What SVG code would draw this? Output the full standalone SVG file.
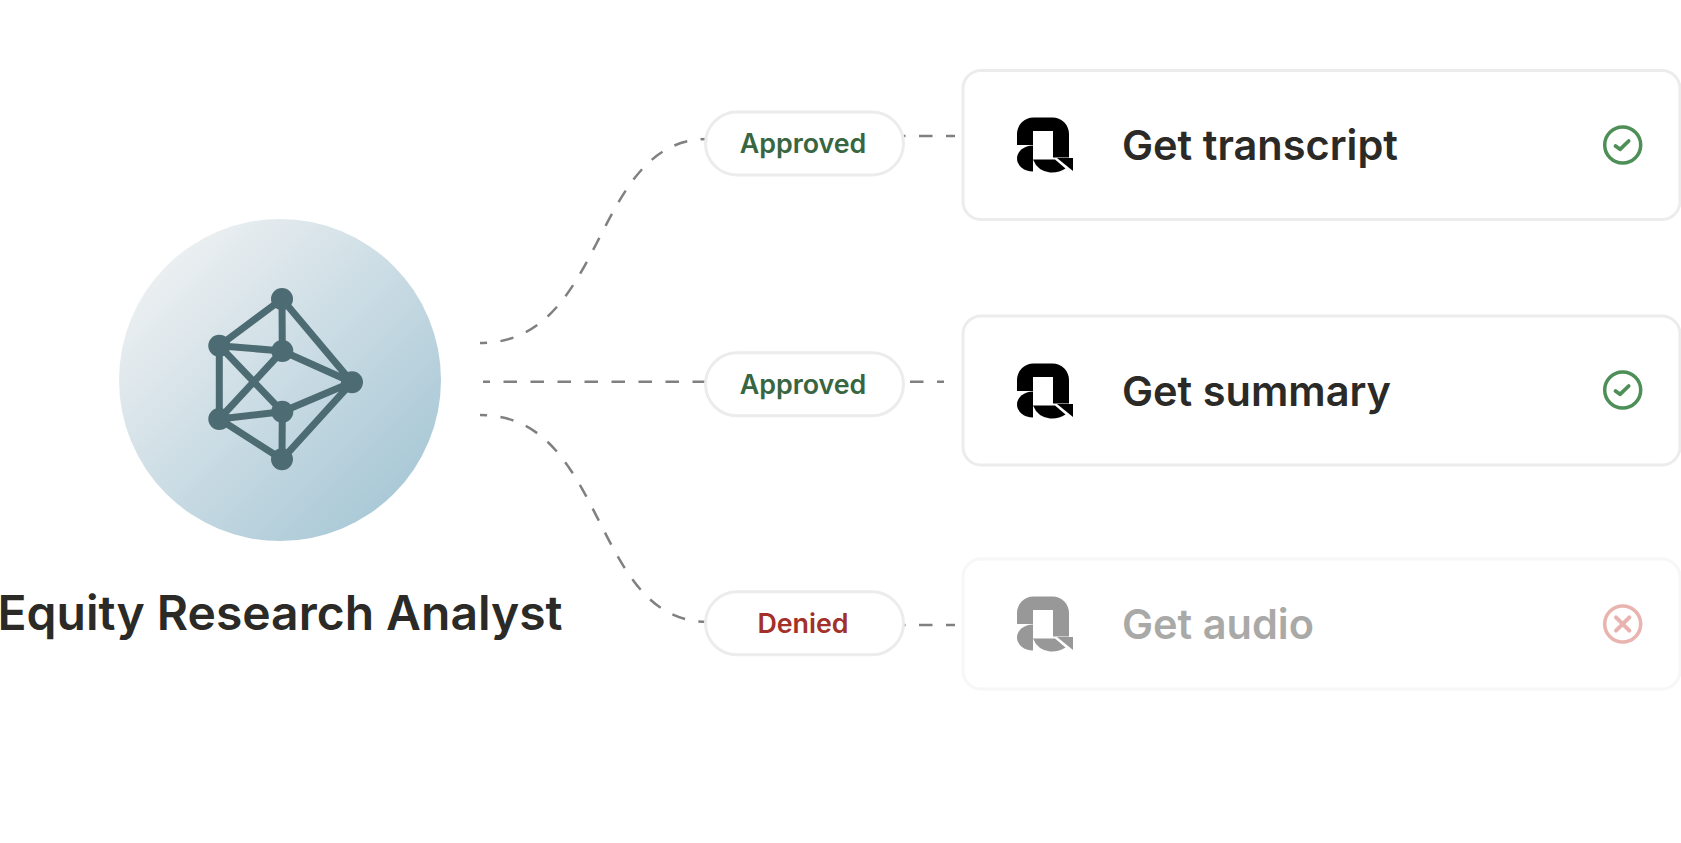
<svg xmlns="http://www.w3.org/2000/svg" xmlns:xlink="http://www.w3.org/1999/xlink" width="1681" height="843" viewBox="0 0 1681 843">
<style>
text{font-family:Inter,"Liberation Sans",sans-serif;font-weight:600}
.card{fill:#fff;stroke:#ececec;stroke-width:3}
.pill{fill:#fff;stroke:#ececec;stroke-width:3}
.title{font-size:41.500px;fill:#2b2a26}
.lab{font-size:26.800px;text-anchor:middle}
.conn{fill:none;stroke:#808080;stroke-width:2.500;stroke-dasharray:13.500 13.500}
.edge{stroke:#4d6b72;stroke-width:7;fill:none}
.dot{fill:#4d6b72}
</style>
<defs>
<linearGradient id="g" x1="0.12" y1="0.12" x2="0.88" y2="0.88"><stop offset="0" stop-color="#edf0f2"/><stop offset="1" stop-color="#a8c8d6"/></linearGradient>
<g id="logo" fill="#000">
<path d="M1017 145V134A16.500 16.500 0 0 1 1033.500 117.500H1052.500A16.500 16.500 0 0 1 1069 134V157.500H1053V131H1033V145Z"/>
<path d="M1033 145.500V171.500A16 13 0 0 1 1033 145.500Z"/>
<path d="M1033 159.500H1055L1065.500 168.500A24 24 0 0 1 1050 172.500A21 21 0 0 1 1033 159.500Z"/>
<path d="M1057 158H1073V171Z"/>
</g>
<g id="ok"><circle cx="1622.700" cy="145" r="18" fill="none" stroke="#4d8f57" stroke-width="3.500"/><path d="M1615.500 146L1620 149.300L1628.700 141" fill="none" stroke="#4d8f57" stroke-width="3.800" stroke-linecap="round" stroke-linejoin="round"/></g>
</defs>
<rect width="1681" height="843" fill="#fff"/>
<g id="connectors">
<path class="conn" stroke-dashoffset="6.500" d="M480 343C608 343 590 139 708 139"/>
<path class="conn" stroke-dashoffset="6.500" d="M483 381.700H708"/>
<path class="conn" stroke-dashoffset="6.500" d="M480 415C608 415 590 622 708 622"/>
<path class="conn" d="M892 136H955"/>
<path class="conn" d="M910 381.700H944"/>
<path class="conn" d="M892 625H955"/>
</g>
<g id="analyst">
<circle cx="280" cy="380" r="161" fill="url(#g)"/>
<g class="edge">
<path d="M282 299L219.300 345.700M282 299L282.300 351M282 299L352 382.300M219.300 345.700L282.300 351M219.300 345.700V419M219.300 345.700L282.300 411.700M282.300 351L219.300 419M282.300 351L352 382.300M282.300 411.700L352 382.300M282.300 411.700L219.300 419M282.300 411.700L282 459.300M219.300 419L282 459.300M282 459.300L352 382.300"/>
</g>
<g class="dot"><circle cx="282" cy="299" r="11"/><circle cx="219.300" cy="345.700" r="11"/><circle cx="282.300" cy="351" r="11"/><circle cx="352" cy="382.300" r="11"/><circle cx="282.300" cy="411.700" r="11"/><circle cx="219.300" cy="419" r="11"/><circle cx="282" cy="459.300" r="11"/></g>
<text x="280" y="629.500" font-size="48" text-anchor="middle" fill="#2b2a26">Equity Research Analyst</text>
</g>
<g id="pill1"><rect class="pill" x="705.500" y="112" width="198" height="63" rx="31.500"/><text class="lab" x="803" y="153" fill="#386641">Approved</text></g>
<g id="pill2"><rect class="pill" x="705.500" y="352.800" width="198" height="63" rx="31.500"/><text class="lab" x="803" y="394" fill="#386641">Approved</text></g>
<g id="pill3"><rect class="pill" x="705.500" y="591.800" width="198" height="63" rx="31.500"/><text class="lab" x="803" y="632.500" fill="#a4302a">Denied</text></g>
<g id="card1"><rect class="card" x="963" y="70.500" width="717" height="149" rx="18"/><use xlink:href="#logo" href="#logo"/><text class="title" x="1122" y="160">Get transcript</text><use xlink:href="#ok" href="#ok"/></g>
<g id="card2"><rect class="card" x="963" y="316" width="717" height="149" rx="18"/><use xlink:href="#logo" href="#logo" y="246"/><text class="title" x="1122" y="406">Get summary</text><use xlink:href="#ok" href="#ok" y="245"/></g>
<g id="card3" opacity="0.4"><rect class="card" x="963" y="559" width="717" height="130" rx="18"/><use xlink:href="#logo" href="#logo" y="479"/><text class="title" x="1122" y="639">Get audio</text>
<circle cx="1622.700" cy="624" r="18" fill="none" stroke="#c9453a" stroke-width="3.500"/><path d="M1616 617.300L1629.400 630.700M1629.400 617.300L1616 630.700" fill="none" stroke="#c9453a" stroke-width="4" stroke-linecap="round"/></g>
</svg>
